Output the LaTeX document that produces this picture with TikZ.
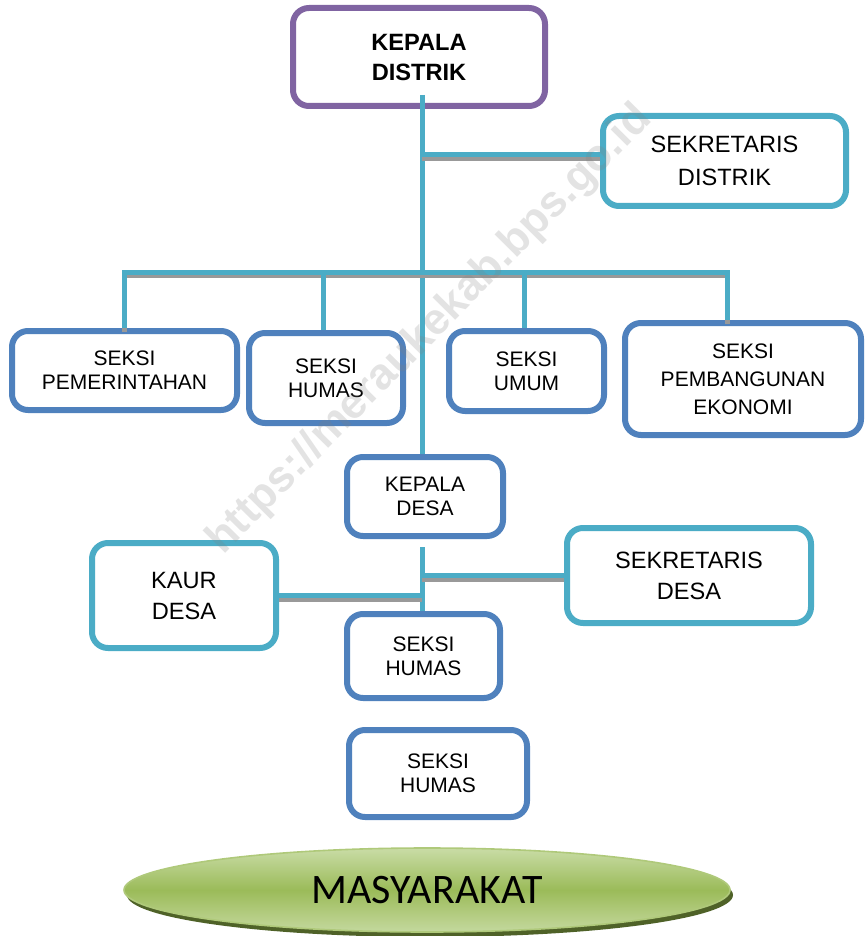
\documentclass[tikz,border=0pt]{standalone}
\usepackage{fontspec}
\setmainfont{Liberation Sans}
\newfontfamily\calibrifont{Carlito}
\usetikzlibrary{shapes.geometric,shadows}
\definecolor{ungu}{HTML}{8064A2}
\definecolor{biru}{HTML}{4F81BD}
\definecolor{birumuda}{HTML}{4BACC6}
\definecolor{hijau}{HTML}{9BBB59}
\definecolor{hijaumuda}{HTML}{C9DCA6}
\definecolor{hijautua}{HTML}{4F6228}

\begin{document}
\begin{tikzpicture}[x=0.5pt,y=-0.5pt,
		kotak/.style={draw,line width=3pt,rounded corners=8pt,fill=white,align=center,inner sep=0pt},
		kecil/.style={kotak,draw=biru,font=\fontsize{10.5}{12}\selectfont},
		besar/.style={kotak,draw=birumuda,font=\fontsize{11.8}{15.5}\selectfont},
		garis/.style={draw=birumuda,line width=2.5pt},
		garisbayang/.style={garis,preaction={draw=gray!80,line width=2.5pt,transform canvas={yshift=-1.8pt}}}]
		\useasboundingbox (0,0) rectangle (865,936);
		%
		\node [kotak,draw=ungu,minimum width=126pt,minimum height=49pt,font=\bfseries\fontsize{11.8}{15}\selectfont] (kd) at (419,57) {KEPALA\\DISTRIK};
		\node [besar,minimum width=121.5pt,minimum height=45pt,font=\fontsize{11.8}{16.5}\selectfont] (sd) at (724.5,161) {SEKRETARIS\\DISTRIK};
		\node [kecil,minimum width=112.5pt,minimum height=39.5pt] (sp) at (124.5,370.5) {SEKSI\\PEMERINTAHAN};
		\node [kecil,minimum width=77pt,minimum height=45pt] (sh) at (326,378) {SEKSI\\HUMAS};
		\node [kecil,minimum width=77.5pt,minimum height=40pt] (su) at (526.5,371) {SEKSI\\UMUM};
		\node [kecil,minimum width=118pt,minimum height=56pt,font=\fontsize{10.5}{14}\selectfont] (sbe) at (743,379) {SEKSI\\PEMBANGUNAN\\EKONOMI};
		\node [kecil,minimum width=78pt,minimum height=39.5pt] (kdesa) at (425,496.5) {KEPALA\\DESA};
		\node [besar,minimum width=92pt,minimum height=52.5pt] (kaur) at (184,595.5) {KAUR\\DESA};
		\node [besar,minimum width=122pt,minimum height=47.5pt] (sekdes) at (689,575.5) {SEKRETARIS\\DESA};
		\node [kecil,minimum width=76.5pt,minimum height=42pt] (sh2) at (423.5,656) {SEKSI\\HUMAS};
		\node [kecil,minimum width=89pt,minimum height=43.5pt] (sh3) at (438,773.5) {SEKSI\\HUMAS};
		%
		\node [ellipse,draw=hijau!80,line width=0.8pt,minimum width=303pt,minimum height=42pt,
			top color=hijaumuda,bottom color=hijaumuda!90!hijau,middle color=hijau,
			drop shadow={shadow xshift=1.5pt,shadow yshift=-2.5pt,fill=hijautua,opacity=1},
			font=\calibrifont\fontsize{21}{21}\selectfont] (masy) at (427,890) {MASYARAKAT};
		%
		\coordinate (bus) at (422,272);
		\draw [garis] (kd.south) ++(3,-14) coordinate (top) -- (top |- kdesa.north);
		\draw [garisbayang] (top |- sd.west) ++(0,-6) coordinate (cab) -- (cab -| sd.west);
		\draw [garisbayang] (sp.north) |- (bus) -| ([xshift=-8pt]sbe.north);
		\foreach \n/\dx in {sh/-3,su/-2}
			\draw [garis] (\n.north) ++(\dx,0) coordinate (d) -- (d |- bus);
		\draw [garis] (kdesa.south) ++(-3,8) coordinate (bwh) -- (bwh |- sh2.north);
		\draw [garisbayang] (sekdes.west) -- (sekdes.west -| bwh);
		\draw [garisbayang] (kaur.east) -- (kaur.east -| bwh);
		% watermark
		\node [rotate=45.3,text=gray,text opacity=0.22,font=\bfseries\fontsize{22}{22}\selectfont] (wm) at (430,330) {https://meraukekab.bps.go.id};
	\end{tikzpicture}
\end{document}
